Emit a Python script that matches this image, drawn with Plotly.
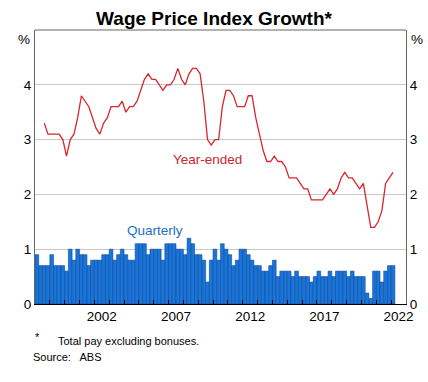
import plotly.graph_objects as go

# ---- data ----
quarterly = [0.9, 0.7, 0.7, 0.7, 0.9, 0.7, 0.7, 0.7, 0.6, 1.0,
             0.8, 1.0, 0.9, 0.9, 0.7, 0.8, 0.8, 0.8, 0.9, 0.9,
             1.0, 0.8, 0.9, 1.0, 0.9, 0.8, 0.8, 1.1, 1.1, 1.1,
             0.9, 1.0, 1.0, 1.0, 0.8, 1.1, 1.1, 1.1, 1.0, 1.0,
             0.9, 1.2, 1.1, 0.9, 0.9, 0.8, 0.4, 0.8, 1.0, 0.8,
             1.1, 1.0, 0.9, 0.7, 0.8, 1.0, 1.0, 0.9, 0.8, 0.7,
             0.7, 0.6, 0.6, 0.7, 0.8, 0.5, 0.6, 0.6, 0.6, 0.5,
             0.6, 0.5, 0.5, 0.5, 0.4, 0.5, 0.6, 0.5, 0.5, 0.6,
             0.5, 0.6, 0.6, 0.6, 0.5, 0.6, 0.5, 0.5, 0.5, 0.2,
             0.1, 0.6, 0.6, 0.4, 0.6, 0.7, 0.7]
quarterly_start = (1998, 1)

year_ended = [3.3, 3.1, 3.1, 3.1, 3.1, 3.0, 2.7, 3.0, 3.1, 3.4,
              3.8, 3.7, 3.6, 3.4, 3.2, 3.1, 3.3, 3.4, 3.6, 3.6,
              3.6, 3.7, 3.5, 3.6, 3.6, 3.7, 3.9, 4.1, 4.2, 4.1,
              4.1, 4.0, 3.9, 4.0, 4.0, 4.1, 4.3, 4.1, 4.0, 4.2,
              4.3, 4.3, 4.2, 3.7, 3.0, 2.9, 3.0, 3.0, 3.6, 3.9,
              3.9, 3.8, 3.6, 3.6, 3.6, 3.8, 3.8, 3.4, 3.1, 2.8,
              2.6, 2.6, 2.7, 2.6, 2.6, 2.5, 2.3, 2.3, 2.3, 2.2,
              2.1, 2.1, 1.9, 1.9, 1.9, 1.9, 2.0, 2.1, 2.0, 2.1,
              2.3, 2.4, 2.3, 2.3, 2.2, 2.1, 2.2, 1.8, 1.4, 1.4,
              1.5, 1.7, 2.2, 2.3, 2.4]
year_ended_start = (1998, 3)

year_labels = ["2002", "2007", "2012", "2017", "2022"]
y_ticks = [0, 1, 2, 3, 4]


def quarter_mid(start, n):
    y, q = start
    out = []
    for _ in range(n):
        out.append(y + (q - 0.5) / 4)
        q += 1
        if q > 4:
            q = 1
            y += 1
    return out


xq = quarter_mid(quarterly_start, len(quarterly))
xy = quarter_mid(year_ended_start, len(year_ended))

FONT = "Liberation Sans, Arial, sans-serif"
BLUE = "#1b74d8"
RED = "#d9262e"

W, H = 428, 382
ML, MR, MT, MB = 35, 22, 30, 78
plot_w = W - ML - MR
plot_h = H - MT - MB


def px(x):
    return (x - ML) / plot_w


def py(y):
    return (H - MB - y) / plot_h


fig = go.Figure()
fig.add_trace(go.Bar(x=xq, y=quarterly, width=0.25,
                     marker=dict(color=BLUE, line=dict(color="#0b4c9e", width=0.6)),
                     yaxis="y", showlegend=False, hoverinfo="skip"))
fig.add_trace(go.Scatter(x=xy, y=year_ended, mode="lines",
                         line=dict(color=RED, width=1.3),
                         yaxis="y2", showlegend=False, hoverinfo="skip"))

fig.update_layout(
    width=W, height=H,
    margin=dict(l=ML, r=MR, t=MT, b=MB, autoexpand=False),
    paper_bgcolor="white", plot_bgcolor="white",
    font=dict(family=FONT, size=13.5, color="black"),
    bargap=0,
    title=dict(text="<b>Wage Price Index Growth*</b>", x=0.5, xanchor="center",
               y=1 - 18 / H, yanchor="middle", font=dict(size=19, family=FONT)),
    xaxis=dict(range=[1998, 2023], showgrid=False, zeroline=False, automargin=False,
               tickmode="array", tickvals=[int(s) + 0.5 for s in year_labels],
               ticktext=year_labels, ticks="",
               minor=dict(tickvals=list(range(1999, 2023)), ticks="inside",
                          ticklen=4, tickcolor="black", tickwidth=1, showgrid=False),
               showline=True, linecolor="black", linewidth=1, mirror=False),
    yaxis=dict(range=[0, 5], tickvals=y_ticks, ticktext=[str(v) for v in y_ticks],
               showgrid=True, gridcolor="#c9c9c9", gridwidth=1, zeroline=False,
               automargin=False,
               ticks="", showline=True, linecolor="#666", linewidth=1),
    yaxis2=dict(range=[0, 5], tickvals=y_ticks, ticktext=[str(v) for v in y_ticks],
                overlaying="y", side="right", showgrid=False, zeroline=False,
                automargin=False,
                ticks="", showline=True, linecolor="#666", linewidth=1),
    shapes=[dict(type="line", xref="paper", yref="paper", x0=0, x1=1, y0=1, y1=1,
                 line=dict(color="#666", width=1))],
)

fig.add_annotation(x=2006.1, y=1.34, text="Quarterly", showarrow=False,
                   font=dict(color="#1a6fc6", size=13.5), xref="x", yref="y")
fig.add_annotation(x=2009.6, y=2.63, text="Year-ended", showarrow=False,
                   font=dict(color="#c8282e", size=13.5), xref="x", yref="y")
fig.add_annotation(x=0, y=1, xref="paper", yref="paper", text="%", showarrow=False,
                   xanchor="right", yanchor="top", xshift=-3, yshift=0,
                   font=dict(size=13.5))
fig.add_annotation(x=1, y=1, xref="paper", yref="paper", text="%", showarrow=False,
                   xanchor="left", yanchor="top", xshift=3, yshift=0,
                   font=dict(size=13.5))
fig.add_annotation(x=px(33), y=py(337), xref="paper", yref="paper", text="*",
                   showarrow=False, xanchor="left", yanchor="middle",
                   font=dict(size=11))
fig.add_annotation(x=px(56), y=py(341), xref="paper", yref="paper",
                   text="Total pay excluding bonuses.", showarrow=False,
                   xanchor="left", yanchor="middle", font=dict(size=11))
fig.add_annotation(x=px(31), y=py(357), xref="paper", yref="paper",
                   text="Source:   ABS", showarrow=False,
                   xanchor="left", yanchor="middle", font=dict(size=11))

fig.write_html("out.html", config={"displayModeBar": False, "staticPlot": True},
               post_script="document.body.style.margin='0';document.body.style.overflow='hidden';")
